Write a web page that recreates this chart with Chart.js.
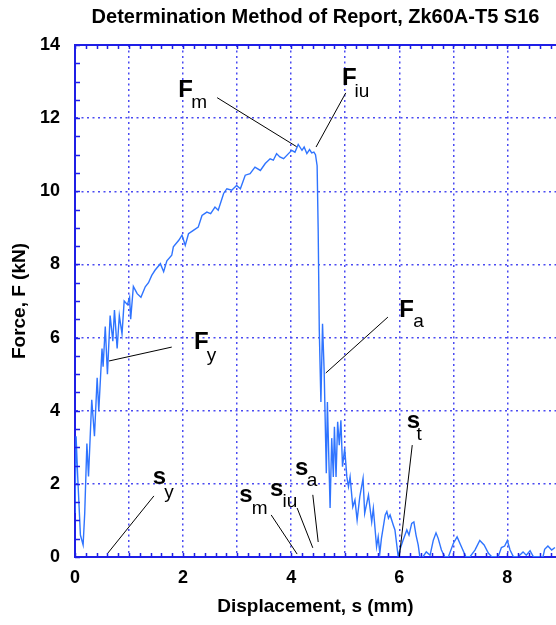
<!DOCTYPE html>
<html>
<head>
<meta charset="utf-8">
<script src="https://cdn.jsdelivr.net/npm/chart.js@4"></script>
<style>
  html, body { margin: 0; padding: 0; background: #fff; }
  canvas { display: block; }
</style>
</head>
<body>
<canvas id="reportChart" width="556" height="625"></canvas>
<script>
// displacement (mm) and force (kN)
const displacement = [
    0.00, 0.02, 0.05, 0.10, 0.15, 0.18, 0.22, 0.25, 0.31, 0.36, 0.41, 0.44, 0.50, 0.52, 0.56, 0.60,
    0.65, 0.70, 0.73, 0.78, 0.82, 0.87, 0.91, 0.97, 1.01, 1.03, 1.08, 1.15, 1.22, 1.30, 1.36, 1.42,
    1.48, 1.58, 1.64, 1.70, 1.79, 1.82, 1.92, 1.98, 2.04, 2.10, 2.19, 2.28, 2.35, 2.44, 2.51, 2.59,
    2.65, 2.75, 2.81, 2.90, 2.99, 3.06, 3.15, 3.24, 3.33, 3.43, 3.52, 3.61, 3.67, 3.73, 3.79, 3.86,
    3.95, 4.01, 4.07, 4.13, 4.20, 4.24, 4.29, 4.34, 4.38, 4.42, 4.45, 4.48, 4.50, 4.52, 4.55, 4.58,
    4.61, 4.65, 4.67, 4.72, 4.75, 4.78, 4.80, 4.83, 4.86, 4.89, 4.92, 4.95, 4.99, 5.03, 5.06, 5.09,
    5.14, 5.18, 5.22, 5.27, 5.33, 5.36, 5.43, 5.49, 5.52, 5.58, 5.61, 5.64, 5.67, 5.74, 5.77, 5.80,
    5.83, 5.89, 5.92, 5.98, 6.01, 6.07, 6.14, 6.18, 6.23, 6.27, 6.31, 6.35, 6.38, 6.44, 6.50, 6.57,
    6.63, 6.68, 6.72, 6.78, 6.84, 6.91, 7.00, 7.07, 7.15, 7.23, 7.31, 7.40, 7.49, 7.57, 7.65, 7.71,
    7.83, 7.89, 7.95, 8.00, 8.05, 8.11, 8.20, 8.29, 8.35, 8.42, 8.48, 8.66, 8.69, 8.75, 8.82, 8.88,
];
const force = [
    1.20, 3.30, 2.20, 0.60, 0.33, 1.20, 3.10, 2.20, 4.30, 3.30, 4.90, 4.00, 5.70, 5.20, 6.30, 5.00,
    6.60, 5.90, 6.75, 5.70, 6.60, 6.10, 7.00, 6.90, 7.10, 6.50, 7.40, 7.20, 7.10, 7.39, 7.50, 7.70,
    7.84, 8.02, 7.80, 8.10, 8.25, 8.48, 8.66, 8.80, 8.52, 8.84, 8.93, 9.02, 9.34, 9.43, 9.39, 9.57,
    9.48, 9.94, 10.07, 10.03, 10.16, 10.07, 10.44, 10.48, 10.66, 10.57, 10.76, 10.89, 10.85, 11.03, 10.94, 10.89,
    11.03, 11.12, 11.07, 11.28, 11.12, 11.21, 11.03, 11.14, 11.05, 11.07, 11.00, 10.70, 8.90, 6.20, 4.24, 6.38,
    5.10, 2.29, 4.24, 1.34, 3.25, 2.19, 3.56, 2.19, 3.70, 3.06, 3.74, 2.47, 2.97, 2.19, 1.92, 2.19,
    1.37, 1.56, 1.01, 1.65, 2.15, 1.19, 1.69, 0.96, 1.33, 0.28, 0.55, 0.10, 0.51, 1.15, 1.24, 1.06,
    1.15, 0.87, 0.74, 0.01, 0.19, 0.46, 0.74, 0.60, 0.92, 0.96, 0.60, 0.33, 0.01, 0.01, 0.14, 0.05,
    0.46, 0.66, 0.51, 0.19, 0.01, 0.01, 0.37, 0.55, 0.28, 0.01, 0.01, 0.19, 0.45, 0.33, 0.10, 0.01,
    0.01, 0.26, 0.30, 0.45, 0.19, 0.01, 0.01, 0.14, 0.05, 0.17, 0.01, 0.01, 0.21, 0.30, 0.19, 0.26,
];

const xRange = [0, 8.9];
const yRange = [0, 14];

// annotation labels: symbol, subscript, label spot, subscript spot, leader line (all in data units)
const markLabels = [
    { main: 'F', sub: 'm',  at: [1.91, 12.59], subAt: [2.15, 12.27], from: [2.63, 12.56], to: [4.10, 11.22] },
    { main: 'F', sub: 'iu', at: [4.94, 12.91], subAt: [5.17, 12.59], from: [5.01, 12.69], to: [4.46, 11.21] },
    { main: 'F', sub: 'y',  at: [2.20, 5.68],  subAt: [2.44, 5.35],  from: [1.79, 5.74],  to: [0.63, 5.36] },
    { main: 'F', sub: 'a',  at: [6.00, 6.57],  subAt: [6.26, 6.30],  from: [5.79, 6.56],  to: [4.64, 5.03] },
    { main: 's', sub: 'y',  at: [1.44, 2.00],  subAt: [1.65, 1.61],  from: [1.46, 1.67],  to: [0.61, 0.11] },
    { main: 's', sub: 'm',  at: [3.04, 1.51],  subAt: [3.27, 1.18],  from: [3.63, 1.15],  to: [4.11, 0.08] },
    { main: 's', sub: 'iu', at: [3.61, 1.67],  subAt: [3.84, 1.36],  from: [4.11, 1.34],  to: [4.40, 0.25] },
    { main: 's', sub: 'a',  at: [4.07, 2.24],  subAt: [4.29, 1.94],  from: [4.40, 1.70],  to: [4.50, 0.41] },
    { main: 's', sub: 't',  at: [6.14, 3.52],  subAt: [6.32, 3.20],  from: [6.24, 3.06],  to: [6.00, 0.00] },
];

const FONT = "'Liberation Sans', Arial, sans-serif";
const AXIS_BLUE = '#1f1fe6';
const GRID_BLUE = '#4a4af2';

const points = displacement.map((d, i) => ({ x: d, y: force[i] }));

const decorations = {
    id: 'decorations',
    afterDraw(chart) {
        const { ctx, chartArea: a, scales: { x, y } } = chart;
        ctx.save();

        // top frame line and inward minor ticks
        ctx.strokeStyle = AXIS_BLUE;
        ctx.lineWidth = 2;
        ctx.beginPath();
        ctx.moveTo(a.left, a.top);
        ctx.lineTo(a.right, a.top);
        ctx.stroke();

        ctx.lineWidth = 1.5;
        ctx.beginPath();
        for (let v = 0; v <= xRange[1] + 1e-6; v += 0.2) {
            const px = Math.round(x.getPixelForValue(v)) + 0.5;
            ctx.moveTo(px, a.bottom); ctx.lineTo(px, a.bottom - 4);
            ctx.moveTo(px, a.top); ctx.lineTo(px, a.top + 4);
        }
        for (let v = 0; v <= yRange[1] + 1e-6; v += 0.5) {
            const py = Math.round(y.getPixelForValue(v)) + 0.5;
            ctx.moveTo(a.left, py); ctx.lineTo(a.left + 5, py);
        }
        ctx.stroke();

        // labels with leader lines
        ctx.strokeStyle = '#000';
        ctx.lineWidth = 1;
        ctx.fillStyle = '#000';
        ctx.textAlign = 'left';
        ctx.textBaseline = 'alphabetic';
        markLabels.forEach(m => {
            ctx.beginPath();
            ctx.moveTo(x.getPixelForValue(m.from[0]), y.getPixelForValue(m.from[1]));
            ctx.lineTo(x.getPixelForValue(m.to[0]), y.getPixelForValue(m.to[1]));
            ctx.stroke();
            ctx.font = 'bold 24px ' + FONT;
            ctx.fillText(m.main, x.getPixelForValue(m.at[0]), y.getPixelForValue(m.at[1]));
            ctx.font = '19px ' + FONT;
            ctx.fillText(m.sub, x.getPixelForValue(m.subAt[0]), y.getPixelForValue(m.subAt[1]));
        });

        // titles
        const cx = (a.left + a.right) / 2;
        ctx.textAlign = 'center';
        ctx.textBaseline = 'middle';
        ctx.font = 'bold 20px ' + FONT;
        ctx.fillText('Determination Method of Report, Zk60A-T5 S16', cx, 17);
        ctx.font = 'bold 19px ' + FONT;
        ctx.fillText('Displacement, s (mm)', cx, 607);
        ctx.translate(20, (a.top + a.bottom) / 2);
        ctx.rotate(-Math.PI / 2);
        ctx.fillText('Force, F (kN)', 0, 0);
        ctx.restore();
    },
};

new Chart(document.getElementById('reportChart'), {
    type: 'scatter',
    data: {
        datasets: [{
            data: points,
            showLine: true,
            borderColor: '#2f74ff',
            borderWidth: 1.4,
            pointRadius: 0,
            tension: 0,
        }],
    },
    options: {
        responsive: false,
        animation: false,
        devicePixelRatio: 1,
        layout: { padding: { top: 45, left: 0, right: 0, bottom: 0 } },
        plugins: {
            legend: { display: false },
            title: { display: false },
            tooltip: { enabled: false },
        },
        scales: {
            x: {
                type: 'linear',
                min: xRange[0],
                max: xRange[1],
                afterFit: s => {
                    s.height = 68;
                    s.paddingLeft = 0;
                    s.paddingRight = 0;
                },
                ticks: {
                    stepSize: 1,
                    padding: 10,
                    color: '#000',
                    font: { family: FONT, weight: 'bold', size: 18 },
                    callback: v => (Number.isInteger(v) && v % 2 === 0 ? v : ''),
                },
                grid: {
                    drawTicks: false,
                    lineWidth: 1.5,
                    color: c => (Number.isInteger(c.tick.value) ? GRID_BLUE : 'transparent'),
                },
                border: { display: true, color: AXIS_BLUE, width: 2, dash: [2, 3.5] },
            },
            y: {
                min: yRange[0],
                max: yRange[1],
                afterFit: s => { s.width = 75; },
                ticks: {
                    stepSize: 2,
                    padding: 15,
                    color: '#000',
                    font: { family: FONT, weight: 'bold', size: 18 },
                },
                grid: {
                    drawTicks: false,
                    lineWidth: 1.5,
                    color: GRID_BLUE,
                },
                border: { display: true, color: AXIS_BLUE, width: 2, dash: [2, 3.5] },
            },
        },
    },
    plugins: [decorations],
});
</script>
</body>
</html>
